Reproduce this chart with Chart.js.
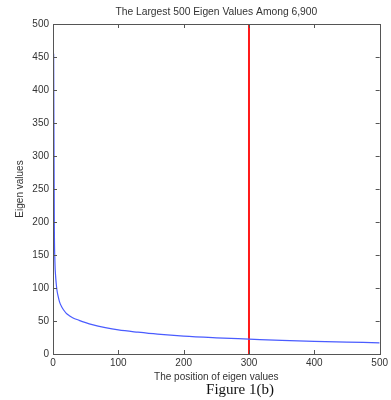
<!DOCTYPE html>
<html>
<head>
<meta charset="utf-8">
<script src="https://cdn.jsdelivr.net/npm/chart.js@4.4.1/dist/chart.umd.min.js"></script>
<style>
  html, body { margin: 0; padding: 0; background: #fff; }
  #wrap { position: relative; width: 391px; height: 400px; }
  #caption {
    position: absolute; left: 240px; top: 381px; transform: translateX(-50%);
    font: 15px "Liberation Serif", "Times New Roman", serif; color: #111; white-space: nowrap;
  }
</style>
</head>
<body>
<div id="wrap">
  <canvas id="chart" width="391" height="400"></canvas>
  <div id="caption">Figure 1(b)</div>
</div>
<script>
// eigen value curve
const evIndex  = [1, 2, 3, 4, 5, 6, 8, 10, 13, 16, 20, 25, 30, 40, 50, 60, 80, 100, 130, 160, 200, 250, 300, 350, 400, 450, 500];
const evValues = [455, 200, 138, 118, 106, 97, 87, 79, 72, 67, 62, 58, 55, 51, 47.5, 44.5, 40, 36.5, 33, 30, 27, 24.5, 22.5, 20.5, 19, 18, 17];

// cut-off marker
const cutIndex = [300, 300];
const cutValue = [0, 500];

const xTicks = [0, 100, 200, 300, 400, 500];
const yTicks = [0, 50, 100, 150, 200, 250, 300, 350, 400, 450, 500];

const titleText = "The Largest 500 Eigen Values Among 6,900";

const axisColor = "#555";
const textColor = "#333";
const font = { family: "'Liberation Sans', Arial, sans-serif", size: 10 };

// MATLAB style box with inward ticks, title centred over the axes
const boxPlugin = {
  id: "box",
  afterDraw(c) {
    const { ctx, chartArea: a, scales: { x, y } } = c;
    ctx.save();
    ctx.strokeStyle = axisColor;
    ctx.lineWidth = 1;
    ctx.strokeRect(Math.round(a.left) + 0.5, Math.round(a.top) + 0.5,
                   Math.round(a.right - a.left), Math.round(a.bottom - a.top));
    ctx.beginPath();
    xTicks.forEach(v => {
      const px = Math.round(x.getPixelForValue(v)) + 0.5;
      ctx.moveTo(px, a.bottom); ctx.lineTo(px, a.bottom - 4);
      ctx.moveTo(px, a.top); ctx.lineTo(px, a.top + 4);
    });
    yTicks.forEach(v => {
      const py = Math.round(y.getPixelForValue(v)) + 0.5;
      ctx.moveTo(a.left, py); ctx.lineTo(a.left + 4, py);
      ctx.moveTo(a.right, py); ctx.lineTo(a.right - 4, py);
    });
    ctx.stroke();

    ctx.fillStyle = textColor;
    ctx.font = "10.3px 'Liberation Sans', Arial, sans-serif";
    ctx.textAlign = "center";
    ctx.textBaseline = "middle";
    ctx.fillText(titleText, (a.left + a.right) / 2, 12.5);
    ctx.restore();
  }
};

new Chart(document.getElementById("chart"), {
  type: "line",
  data: {
    datasets: [
      {
        data: evIndex.map((v, i) => ({ x: v, y: evValues[i] })),
        borderColor: "#4a5cff",
        borderWidth: 1.2,
        pointRadius: 0,
        cubicInterpolationMode: "monotone"
      },
      {
        data: cutIndex.map((v, i) => ({ x: v, y: cutValue[i] })),
        borderColor: "#ff1a1a",
        borderWidth: 2,
        pointRadius: 0
      }
    ]
  },
  options: {
    responsive: false,
    animation: false,
    events: [],
    layout: { padding: { left: 0, right: 9, top: 24, bottom: 11 } },
    plugins: {
      legend: { display: false },
      tooltip: { enabled: false },
      title: { display: false }
    },
    scales: {
      x: {
        type: "linear",
        min: 0, max: 500,
        afterFit: s => { s.height = 35; },
        afterBuildTicks: s => { s.ticks = xTicks.map(v => ({ value: v })); },
        grid: { display: false, drawTicks: false },
        border: { display: false },
        ticks: { color: textColor, font, padding: 3, maxRotation: 0 },
        title: {
          display: true, text: "The position of eigen values",
          color: textColor, font, padding: { top: 0, bottom: 5.4 }
        }
      },
      y: {
        type: "linear",
        min: 0, max: 500,
        afterFit: s => { s.width = 53; },
        afterBuildTicks: s => { s.ticks = yTicks.map(v => ({ value: v })); },
        grid: { display: false, drawTicks: false },
        border: { display: false },
        ticks: { color: textColor, font, padding: 4 },
        title: {
          display: true, text: "Eigen values",
          color: textColor, font, padding: { top: 14, bottom: 0 }
        }
      }
    }
  },
  plugins: [boxPlugin]
});
</script>
</body>
</html>
